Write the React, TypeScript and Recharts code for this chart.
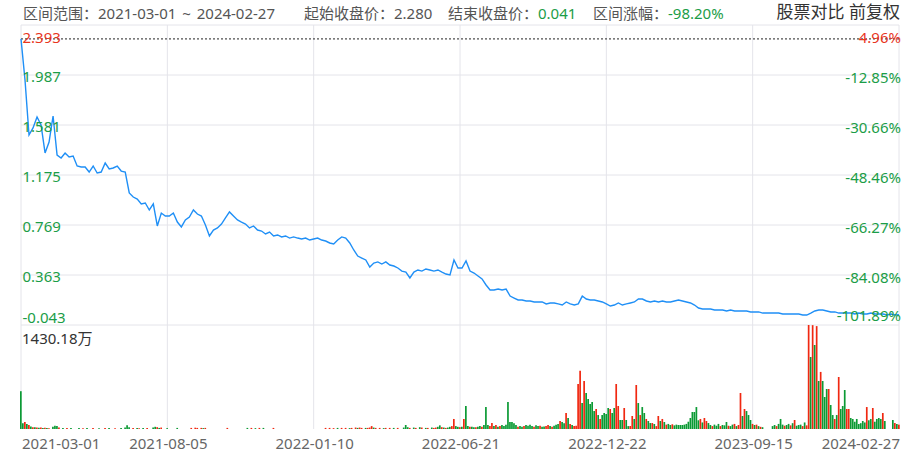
import React from 'react';
import {
  LineChart,
  ComposedChart,
  Line,
  Bar,
  Cell,
  XAxis,
  YAxis,
  CartesianGrid,
  ReferenceLine,
} from 'recharts';

const rangeStart = '2021-03-01';
const rangeEnd = '2024-02-27';
const startClose = 2.28;
const endClose = 0.041;

// x axis: trading-session index, labelled every 73 sessions
const dateTicks = [0, 73, 146, 219, 292, 365, 438];
const dateLabels = ['2021-03-01', '2021-08-05', '2022-01-10', '2022-06-21', '2022-12-22', '2023-09-15', '2024-02-27'];
const priceTicks = [-0.043, 0.363, 0.769, 1.175, 1.581, 1.987, 2.393];
const volumeMax = 1430.18; // 万

// close price, sampled every second session
const closes = [
  2.28, 1.946, 1.5, 1.557, 1.646, 1.581, 1.354, 1.443, 1.654, 1.337,
  1.313, 1.354, 1.321, 1.329, 1.248, 1.24, 1.24, 1.199, 1.248, 1.191,
  1.199, 1.272, 1.224, 1.232, 1.248, 1.207, 1.199, 1.029, 0.996, 0.98,
  0.94, 0.948, 0.891, 0.94, 0.761, 0.866, 0.842, 0.842, 0.866, 0.793,
  0.753, 0.81, 0.834, 0.891, 0.858, 0.842, 0.769, 0.68, 0.728, 0.745,
  0.777, 0.826, 0.875, 0.842, 0.81, 0.793, 0.777, 0.745, 0.761, 0.728,
  0.72, 0.696, 0.712, 0.68, 0.688, 0.672, 0.68, 0.663, 0.672, 0.663,
  0.655, 0.663, 0.647, 0.655, 0.663, 0.647, 0.639, 0.623, 0.615, 0.647,
  0.672, 0.663, 0.623, 0.566, 0.517, 0.501, 0.485, 0.428, 0.46, 0.469,
  0.452, 0.469, 0.444, 0.436, 0.42, 0.395, 0.387, 0.339, 0.387, 0.404,
  0.395, 0.412, 0.404, 0.395, 0.404, 0.387, 0.371, 0.363, 0.485, 0.42,
  0.42, 0.477, 0.395, 0.379, 0.355, 0.331, 0.282, 0.241, 0.241, 0.249,
  0.241, 0.249, 0.192, 0.176, 0.16, 0.16, 0.152, 0.152, 0.144, 0.144,
  0.144, 0.128, 0.136, 0.136, 0.128, 0.119, 0.144, 0.128, 0.119, 0.128,
  0.192, 0.168, 0.16, 0.16, 0.152, 0.144, 0.128, 0.111, 0.119, 0.136,
  0.119, 0.128, 0.136, 0.144, 0.168, 0.168, 0.152, 0.144, 0.152, 0.144,
  0.152, 0.144, 0.144, 0.152, 0.16, 0.152, 0.144, 0.136, 0.119, 0.095,
  0.087, 0.087, 0.087, 0.079, 0.079, 0.079, 0.071, 0.079, 0.071, 0.071,
  0.071, 0.071, 0.063, 0.063, 0.063, 0.054, 0.054, 0.054, 0.054, 0.054,
  0.046, 0.046, 0.046, 0.046, 0.046, 0.038, 0.038, 0.054, 0.071, 0.079,
  0.079, 0.071, 0.063, 0.063, 0.054, 0.054, 0.054, 0.054, 0.046, 0.054,
  0.046, 0.046, 0.054, 0.046, 0.046, 0.046, 0.038, 0.046, 0.038, 0.041,
];

// volume per session, 万
const volumes = [
  520, 80, 95, 70, 55, 35, 25, 25, 20, 18, 20, 15, 18, 15, 12, 0, 30, 45, 40, 20,
  0, 15, 0, 15, 0, 15, 0, 0, 0, 15, 0, 12, 0, 15, 0, 0, 15, 0, 0, 12,
  0, 0, 15, 0, 15, 0, 0, 12, 0, 0, 15, 0, 20, 50, 25, 0, 15, 0, 15, 12,
  0, 15, 0, 15, 0, 0, 20, 30, 25, 15, 20, 0, 0, 12, 0, 0, 0, 0, 15, 0,
  0, 0, 0, 0, 0, 15, 0, 18, 15, 0, 15, 12, 15, 0, 0, 0, 0, 0, 0, 0,
  0, 0, 0, 15, 0, 0, 0, 0, 0, 0, 0, 0, 0, 15, 0, 15, 0, 12, 0, 15,
  0, 15, 0, 0, 0, 0, 15, 0, 0, 0, 0, 0, 0, 0, 0, 0, 0, 0, 0, 0,
  0, 0, 0, 0, 0, 0, 0, 0, 0, 0, 0, 0, 15, 0, 15, 0, 12, 0, 15, 0,
  15, 0, 15, 0, 12, 15, 0, 20, 15, 20, 15, 0, 15, 15, 20, 40, 20, 15, 0, 15,
  0, 12, 15, 0, 15, 0, 15, 0, 15, 0, 0, 20, 55, 25, 15, 0, 20, 15, 0, 25,
  20, 0, 15, 15, 0, 20, 15, 20, 30, 50, 25, 20, 15, 20, 30, 40, 138, 40, 30, 25,
  30, 138, 316, 40, 30, 30, 25, 25, 30, 40, 30, 55, 302, 55, 40, 82, 40, 55, 30, 40,
  55, 40, 60, 371, 96, 96, 80, 55, 30, 40, 30, 40, 55, 45, 60, 40, 30, 50, 40, 45,
  30, 35, 40, 55, 40, 30, 45, 60, 70, 110, 96, 80, 220, 151, 70, 55, 40, 45, 619, 800,
  357, 660, 495, 412, 344, 371, 247, 275, 192, 138, 192, 220, 206, 289, 275, 220, 289, 619, 316, 124,
  124, 289, 124, 40, 41, 179, 138, 605, 357, 192, 302, 220, 138, 110, 82, 82, 69, 40, 179, 110,
  138, 96, 60, 70, 55, 65, 50, 60, 55, 55, 55, 60, 70, 100, 151, 234, 234, 302, 120, 138,
  90, 151, 110, 82, 55, 40, 60, 45, 70, 40, 55, 50, 96, 45, 40, 60, 70, 40, 55, 495,
  179, 275, 247, 192, 124, 70, 55, 60, 40, 30, 25, 0, 0, 0, 0, 40, 55, 40, 70, 138,
  60, 45, 55, 70, 50, 80, 124, 45, 55, 60, 40, 90, 50, 1430.18, 990, 1428, 1155, 1415, 660, 785,
  660, 440, 550, 550, 330, 192, 138, 192, 715, 275, 316, 536, 275, 275, 151, 138, 100, 138, 69, 80,
  110, 90, 302, 120, 138, 289, 100, 138, 151, 138, 220, 110, 0, 0, 0, 124, 82, 69, 60,
];

// r = closed up (red), g = closed down (green)
const volumeSide = [
  'ggrgrgrgrgrgrgrggggr', 'gggrgggggggrggggrggg', 'ggrggggrggggggggrggr', 'gggrggggrgrggggggggg',
  'gggggrgrrgrgrggggggg', 'gggrgggggggggggrgggr', 'ggggggrggggggggggggg', 'ggggggggggggrgrgrggg',
  'rgrggrgrgrrggrrrgrgr', 'ggrgrgggrgggggrggrgg', 'rggrggrrggrgrggrrggr', 'grggrggrggrgggrrgrgr',
  'ggggggggrggrggggrggr', 'ggrrgrgggrggrgrgrrrr', 'grgggggrgrggggrggrrg', 'grggrrgrgrggrggrgrrg',
  'rgrggrgggggggggggggr', 'grrggrgggrgggrggrgrr', 'grgggrgrgrgggggggrgg', 'grggrgrgggrgrrgrgrgr',
  'gggrggrgrgggrrgggggg', 'ggrggrggggrgggggrgr',
].join('').split('');

const W = 907;
const H = 456;
const PLOT_LEFT = 21;
const PLOT_RIGHT = 899;
const PRICE_TOP = 25;
const PRICE_BOTTOM = 325;
const VOL_BOTTOM = 429;
const AXIS_W = 1;

const FONT = '"Noto Sans", "Noto Sans CJK SC", sans-serif';
const RED = '#e8361e';
const GREEN = '#1b9d47';
const BAR_RED = '#f02811';
const BAR_GREEN = '#0b9a34';
const GRID = '#e4e4ea';

const priceData = closes.map((close, k) => ({ day: k * 2, close }));
const volumeData = volumes.map((volume, i) => ({ day: i, volume, side: volumeSide[i] }));

const pMin = priceTicks[0];
const pMax = priceTicks[priceTicks.length - 1];

const LeftTick = (props: any) => {
  const v = props.payload.value;
  const dy = v === pMax ? 12 : v === pMin ? -8 : 1;
  return (
    <text x={PLOT_LEFT + 1.5} y={props.y + dy} textAnchor="start" dominantBaseline="central"
      fontSize={15} fontFamily={FONT} fill={v > startClose ? RED : GREEN}>
      {v.toFixed(3)}
    </text>
  );
};

const RightTick = (props: any) => {
  const v = props.payload.value;
  const dy = v === pMax ? 12 : v === pMin ? -10 : 2;
  const pct = ((v / startClose - 1) * 100).toFixed(2) + '%';
  return (
    <text x={PLOT_RIGHT + 2} y={props.y + dy} textAnchor="end" dominantBaseline="central"
      fontSize={15} fontFamily={FONT} fill={v > startClose ? RED : GREEN}>
      {pct}
    </text>
  );
};

const DateTick = (props: any) => {
  const idx = dateTicks.indexOf(props.payload.value);
  const anchor = idx === 0 ? 'start' : idx === dateTicks.length - 1 ? 'end' : 'middle';
  return (
    <text x={props.x + 1} y={443} textAnchor={anchor} dominantBaseline="central"
      fontSize={15} fontFamily={FONT} fill="#666">
      {dateLabels[idx]}
    </text>
  );
};

const VolTick = (props: any) => (
  <text x={PLOT_LEFT + 1} y={props.y + 13} textAnchor="start" dominantBaseline="central"
    fontSize={15} fontFamily={FONT} fill="#333">
    {props.payload.value}万
  </text>
);

const headerStyle: React.CSSProperties = {
  position: 'absolute',
  top: 3,
  fontSize: 15,
  lineHeight: '20px',
  fontFamily: FONT,
  color: '#555',
  whiteSpace: 'nowrap',
};

export default function App() {
  const change = ((endClose / startClose - 1) * 100).toFixed(2) + '%';
  return (
    <div style={{ position: 'absolute', left: 0, top: 0, width: W, height: H, background: '#fff', overflow: 'hidden' }}>
      <div style={{ ...headerStyle, left: 23, wordSpacing: 2 }}>区间范围：{rangeStart} ~ {rangeEnd}</div>
      <div style={{ ...headerStyle, left: 304 }}>起始收盘价：{startClose.toFixed(3)}</div>
      <div style={{ ...headerStyle, left: 448 }}>结束收盘价：<span style={{ color: GREEN }}>{endClose.toFixed(3)}</span></div>
      <div style={{ ...headerStyle, left: 593 }}>区间涨幅：<span style={{ color: GREEN }}>{change}</span></div>
      <div style={{ ...headerStyle, right: 7, fontSize: 17, color: '#333', top: 2 }}>股票对比 前复权</div>

      <div style={{ position: 'absolute', left: 0, top: 0 }}>
        <LineChart width={W} height={PRICE_BOTTOM + 5} data={priceData}
          margin={{ top: PRICE_TOP, right: W - PLOT_RIGHT - AXIS_W, bottom: 5, left: PLOT_LEFT - AXIS_W }}>
          <CartesianGrid yAxisId="left" stroke={GRID} />
          <XAxis dataKey="day" type="number" domain={[0, 438]} ticks={dateTicks} hide />
          <YAxis yAxisId="left" type="number" domain={[pMin, pMax]} ticks={priceTicks} interval={0}
            allowDataOverflow width={AXIS_W} axisLine={false} tickLine={false} tick={LeftTick} />
          <YAxis yAxisId="right" orientation="right" type="number" domain={[pMin, pMax]} ticks={priceTicks}
            interval={0} allowDataOverflow width={AXIS_W} axisLine={false} tickLine={false} tick={RightTick} />
          <ReferenceLine yAxisId="left" y={startClose} stroke="#222" strokeDasharray="2 2" />
          <Line yAxisId="left" type="linear" dataKey="close" stroke="#1f8ff6" strokeWidth={1.4}
            dot={false} isAnimationActive={false} />
        </LineChart>
      </div>

      <div style={{ position: 'absolute', left: 0, top: 0 }}>
        <ComposedChart width={W} height={H} data={volumeData}
          margin={{ top: PRICE_BOTTOM, right: W - PLOT_RIGHT, bottom: 0, left: PLOT_LEFT - AXIS_W }}>
          <CartesianGrid stroke={GRID} horizontal={false} />
          <XAxis dataKey="day" type="number" domain={[0, 438]} ticks={dateTicks} interval={0}
            height={H - VOL_BOTTOM} axisLine={false} tickLine={false} tick={DateTick} />
          <YAxis type="number" domain={[0, volumeMax]} ticks={[volumeMax]} interval={0} allowDataOverflow
            width={AXIS_W} axisLine={false} tickLine={false} tick={VolTick} />
          <Bar dataKey="volume" barSize={1.7} isAnimationActive={false}>
            {volumeData.map((d) => (
              <Cell key={d.day} fill={d.side === 'r' ? BAR_RED : BAR_GREEN} />
            ))}
          </Bar>
        </ComposedChart>
      </div>
    </div>
  );
}
